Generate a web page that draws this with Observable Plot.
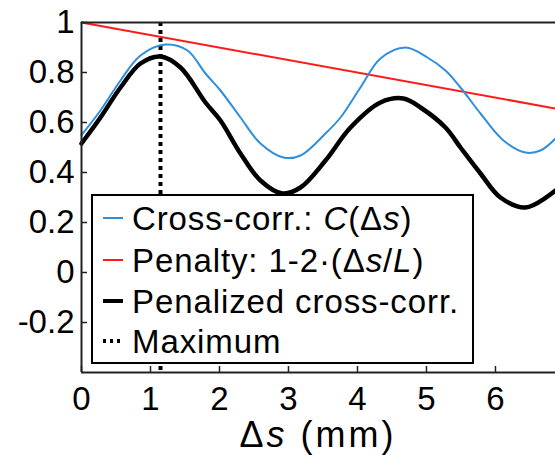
<!DOCTYPE html>
<html><head><meta charset="utf-8">
<script src="https://cdn.jsdelivr.net/npm/d3@7"></script>
<script src="https://cdn.jsdelivr.net/npm/@observablehq/plot@0.6"></script>
<style>body{margin:0;background:#fff} svg{display:block}</style>
</head><body><div id="chart"></div>
<script>
// Cross-correlation C(Δs)
const crossShift = [0,0.275,0.565,0.855,1.217,1.536,1.797,2.014,2.304,2.594,2.928,3.174,3.536,3.754,4.043,4.333,4.696,5.014,5.275,5.493,5.783,6.116,6.435,6.652,6.87];
const crossCorr  = [0.55,0.648,0.768,0.868,0.912,0.888,0.796,0.728,0.62,0.516,0.46,0.468,0.556,0.62,0.74,0.856,0.9,0.86,0.808,0.74,0.636,0.528,0.48,0.488,0.536];
// Penalized cross-correlation
const penShift = [0,0.275,0.565,0.855,1.145,1.435,1.797,2.014,2.304,2.594,2.913,3.174,3.536,3.899,4.333,4.667,4.913,5.275,5.493,5.783,6.072,6.435,6.87];
const penCorr  = [0.516,0.62,0.74,0.836,0.864,0.82,0.68,0.608,0.476,0.368,0.316,0.34,0.448,0.58,0.68,0.696,0.66,0.58,0.5,0.396,0.3,0.26,0.328];
// Penalty 1-2·(Δs/L)
const penaltyShift = [0, 6.87];
const penaltyValue = [1, 0.656];
// Maximum
const maxShift = 1.145;
// ticks
const xTicks = [0,1,2,3,4,5,6];
const yTicks = [-0.2,0,0.2,0.4,0.6,0.8,1];
const yTickLabels = ["-0.2","0","0.2","0.4","0.6","0.8","1"];

const cross = crossShift.map((x,i)=>({x, y: crossCorr[i]}));
const pen = penShift.map((x,i)=>({x, y: penCorr[i]}));
const penalty = penaltyShift.map((x,i)=>({x, y: penaltyValue[i]}));

const W=555, H=455, mL=81, mR=0, mT=22, mB=83;
const innerW = W-mL-mR, innerH = H-mT-mB;
const font = "Liberation Sans, Arial, Helvetica, sans-serif";

const plot = Plot.plot({
  width: W, height: H, marginLeft: mL, marginRight: mR, marginTop: mT, marginBottom: mB,
  style: {fontFamily: font, fontSize: "33px", color: "#000", background: "#fff", overflow: "hidden"},
  x: {domain: [0, 6.87]},
  y: {domain: [-0.4, 1]},
  marks: [
    Plot.ruleX([maxShift], {stroke: "#000", strokeWidth: 4, strokeDasharray: "4,4"}),
    Plot.line(penalty, {x: "x", y: "y", stroke: "#ff1a1a", strokeWidth: 2}),
    Plot.line(cross, {x: "x", y: "y", stroke: "#2f8fdc", strokeWidth: 2, curve: "catmull-rom"}),
    Plot.line(pen, {x: "x", y: "y", stroke: "#000", strokeWidth: 4.5, curve: "catmull-rom"}),
    Plot.ruleX(xTicks, {x: d=>d, insetTop: innerH-6, stroke: "#222", strokeWidth: 1.5}),
    Plot.ruleY(yTicks, {y: d=>d, insetRight: innerW-6, stroke: "#222", strokeWidth: 1.5}),
    Plot.axisX(xTicks, {tickSize: 0, tickPadding: 14, label: null, fontSize: 33}),
    Plot.axisY(yTicks, {tickSize: 0, tickPadding: 7, label: null, fontSize: 33,
      tickFormat: d => yTickLabels[yTicks.indexOf(d)]}),
    Plot.ruleX([0], {stroke: "#222", strokeWidth: 2}),
    Plot.ruleY([1, -0.4], {stroke: "#222", strokeWidth: 2})
  ]
});

const svg = d3.select(plot);
// x-axis label
const xl = svg.append("text").attr("x", 318).attr("y", 447).attr("text-anchor", "middle")
  .attr("font-family", font).attr("font-size", 36).attr("letter-spacing", 3).attr("fill", "#000");
xl.append("tspan").text("Δ");
xl.append("tspan").attr("font-style", "italic").text("s");
xl.append("tspan").text(" (mm)");

// legend
const g = svg.append("g").attr("font-family", font).attr("font-size", 33).attr("letter-spacing", 0.9)
  .attr("text-anchor", "start");
g.append("rect").attr("x", 92).attr("y", 195).attr("width", 381).attr("height", 168)
  .attr("fill", "#fff").attr("stroke", "#000").attr("stroke-width", 2);
const rows = [
  {base: 230, stroke: "#2f8fdc", w: 2, dash: null, parts: [["Cross-corr.: ",0],["C",1],["(Δ",0],["s",1],[")",0]]},
  {base: 272, stroke: "#ff1a1a", w: 2, dash: null, parts: [["Penalty: 1-2·(Δ",0],["s",1],["/",0],["L",1],[")",0]]},
  {base: 313, stroke: "#000", w: 4, dash: null, parts: [["Penalized cross-corr.",0]]},
  {base: 353, stroke: "#000", w: 4, dash: "3,4", parts: [["Maximum",0]]}
];
rows.forEach(r => {
  const yy = r.base - 12;
  const ln = g.append("line").attr("x1", 103).attr("x2", 123).attr("y1", yy).attr("y2", yy)
    .attr("stroke", r.stroke).attr("stroke-width", r.w);
  if (r.dash) ln.attr("stroke-dasharray", r.dash);
  const t = g.append("text").attr("x", 132).attr("y", r.base).attr("fill", "#000").attr("text-anchor", "start");
  r.parts.forEach(([s, it]) => { const sp = t.append("tspan").text(s); if (it) sp.attr("font-style", "italic"); });
});

document.getElementById("chart").append(plot);
</script>
</body></html>
